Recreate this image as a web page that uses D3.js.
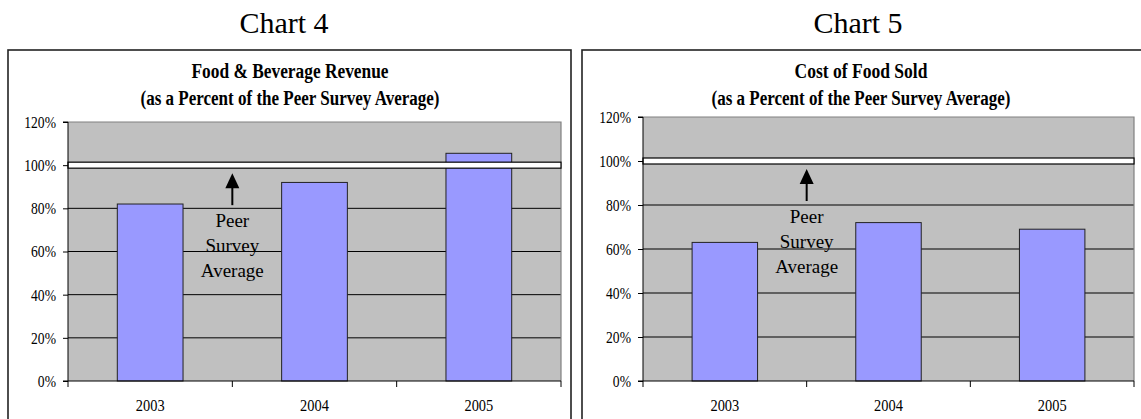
<!DOCTYPE html>
<html>
<head>
<meta charset="utf-8">
<script src="https://cdn.jsdelivr.net/npm/d3@7"></script>
<style>
  html, body { margin: 0; padding: 0; background: #ffffff; }
  svg { display: block; }
  text { font-family: "Liberation Serif", "Times New Roman", serif; fill: #000; }
</style>
</head>
<body>
<svg id="chart" width="1141" height="419"></svg>
<script>
// Years on the category axis
const categories = ["2003", "2004", "2005"];
// Food & Beverage Revenue, percent of peer survey average
const revenuePct = [82, 92, 105.5];
// Cost of Food Sold, percent of peer survey average
const foodCostPct = [63, 72, 69];
// Value axis ticks (percent)
const yTicks = [0, 20, 40, 60, 80, 100, 120];
// Peer survey average reference level
const peerAverage = 100;
// Annotation under the reference band
const noteLines = ["Peer", "Survey", "Average"];

const svg = d3.select("#chart");

// Squeeze a text element horizontally to mimic a narrow face
function condense(sel, factor) {
  sel.each(function () {
    const w = this.getComputedTextLength();
    d3.select(this).attr("textLength", w * factor).attr("lengthAdjust", "spacingAndGlyphs");
  });
}

const panels = [
  {
    heading: "Chart 4",
    headingX: 284,
    titles: ["Food & Beverage Revenue", "(as a Percent of the Peer Survey Average)"],
    titleWidths: [197, 299],
    titleX: 290,
    values: revenuePct,
    frame: { x: 8, y: 50, w: 563, h: 400 },
    plot: { l: 68, r: 561, t: 122, b: 381 }
  },
  {
    heading: "Chart 5",
    headingX: 858,
    titles: ["Cost of Food Sold", "(as a Percent of the Peer Survey Average)"],
    titleWidths: [133, 299],
    titleX: 861,
    values: foodCostPct,
    frame: { x: 582, y: 50, w: 580, h: 400 },
    plot: { l: 643, r: 1134, t: 117, b: 381 }
  }
];

panels.forEach(p => {
  const g = svg.append("g");

  // Heading above the frame
  g.append("text")
    .attr("x", p.headingX).attr("y", 33)
    .attr("text-anchor", "middle")
    .style("font-size", "30px")
    .text(p.heading);

  // Outer frame
  g.append("rect")
    .attr("x", p.frame.x).attr("y", p.frame.y)
    .attr("width", p.frame.w).attr("height", p.frame.h)
    .attr("fill", "#fff").attr("stroke", "#222").attr("stroke-width", 1.6);

  // Two-line bold title
  p.titles.forEach((t, i) => {
    g.append("text")
      .attr("x", p.titleX).attr("y", 78 + i * 27)
      .attr("text-anchor", "middle")
      .attr("textLength", p.titleWidths[i])
      .attr("lengthAdjust", "spacingAndGlyphs")
      .style("font-size", "20px").style("font-weight", "bold")
      .text(t);
  });

  const x = d3.scaleBand().domain(categories).range([p.plot.l, p.plot.r]).padding(0);
  const y = d3.scaleLinear().domain([0, 120]).range([p.plot.b, p.plot.t]);

  // Plot area background
  g.append("rect")
    .attr("x", p.plot.l).attr("y", p.plot.t)
    .attr("width", p.plot.r - p.plot.l).attr("height", p.plot.b - p.plot.t)
    .attr("fill", "#c0c0c0");

  // Gridlines
  g.append("g").selectAll("line")
    .data(yTicks.filter(v => v > 0 && v < 120 && v !== peerAverage))
    .join("line")
    .attr("x1", p.plot.l).attr("x2", p.plot.r)
    .attr("y1", d => y(d)).attr("y2", d => y(d))
    .attr("stroke", "#000").attr("stroke-width", 1);

  // Plot area border (top and right)
  g.append("path")
    .attr("d", `M${p.plot.l},${p.plot.t}H${p.plot.r}V${p.plot.b}`)
    .attr("fill", "none").attr("stroke", "#808080").attr("stroke-width", 1.2);

  // Bars
  const bw = x.bandwidth() * 0.4;
  g.append("g").selectAll("rect")
    .data(categories.map((c, i) => ({ c, v: p.values[i] })))
    .join("rect")
    .attr("x", d => x(d.c) + (x.bandwidth() - bw) / 2)
    .attr("y", d => y(d.v))
    .attr("width", bw)
    .attr("height", d => y(0) - y(d.v))
    .attr("fill", "#9999ff").attr("stroke", "#222").attr("stroke-width", 1);

  // Peer survey average band
  g.append("rect")
    .attr("x", p.plot.l).attr("y", y(peerAverage) - 3)
    .attr("width", p.plot.r - p.plot.l).attr("height", 6)
    .attr("fill", "#fff").attr("stroke", "#000").attr("stroke-width", 1.2);

  // Value axis
  const yAxis = d3.axisLeft(y).tickValues(yTicks).tickFormat(d => d + "%")
    .tickSize(5).tickPadding(7);
  const ya = g.append("g").attr("transform", `translate(${p.plot.l},0)`).call(yAxis);
  ya.select(".domain").attr("stroke", "#000").attr("d", `M-5,${p.plot.t}H0V${p.plot.b}H-5`);
  ya.selectAll(".tick line").attr("stroke", "#000");
  ya.selectAll(".tick text")
    .style("font-size", "17px")
    .style("font-family", "'Liberation Serif', 'Times New Roman', serif")
    .attr("fill", "#000")
    .call(condense, 0.8);

  // Category axis: labels centred in bands, ticks on band boundaries
  const xAxis = d3.axisBottom(x).tickSize(0).tickPadding(19);
  const xa = g.append("g").attr("transform", `translate(0,${p.plot.b})`).call(xAxis);
  xa.select(".domain").attr("stroke", "#000").attr("d", `M${p.plot.l},0H${p.plot.r}`);
  xa.selectAll(".tick text")
    .style("font-size", "16px")
    .style("font-family", "'Liberation Serif', 'Times New Roman', serif")
    .attr("fill", "#000")
    .call(condense, 0.9);
  const bounds = categories.map(c => x(c)).concat([x(categories[categories.length - 1]) + x.bandwidth()]);
  xa.append("g").selectAll("line").data(bounds).join("line")
    .attr("x1", d => d).attr("x2", d => d)
    .attr("y1", 0).attr("y2", 6)
    .attr("stroke", "#000");

  // Arrow pointing to the band, with its label
  const ax = x(categories[1]);
  const y100 = y(peerAverage);
  g.append("line")
    .attr("x1", ax).attr("x2", ax)
    .attr("y1", y100 + 40).attr("y2", y100 + 20)
    .attr("stroke", "#000").attr("stroke-width", 2);
  g.append("path")
    .attr("d", `M${ax},${y100 + 8}L${ax - 7},${y100 + 23}L${ax + 7},${y100 + 23}Z`)
    .attr("fill", "#000");
  noteLines.forEach((t, i) => {
    g.append("text")
      .attr("x", ax).attr("y", y100 + 62 + i * 25)
      .attr("text-anchor", "middle")
      .style("font-size", "19px")
      .text(t);
  });
});
</script>
</body>
</html>
